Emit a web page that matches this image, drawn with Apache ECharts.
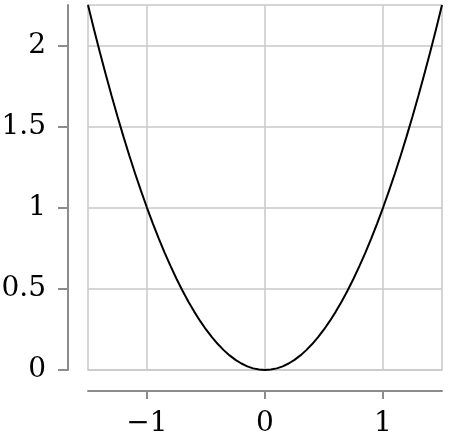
<!DOCTYPE html>
<html>
<head>
<meta charset="utf-8">
<script src="https://cdn.jsdelivr.net/npm/echarts@6/dist/echarts.min.js"></script>
<style>
html,body{margin:0;padding:0;background:#fff;}
#chart{width:449px;height:437px;}
</style>
</head>
<body>
<div id="chart"></div>
<script>
const xValues = [-1.5, -1.45, -1.4, -1.35, -1.3, -1.25, -1.2, -1.15, -1.1, -1.05,
                 -1, -0.95, -0.9, -0.85, -0.8, -0.75, -0.7, -0.65, -0.6, -0.55,
                 -0.5, -0.45, -0.4, -0.35, -0.3, -0.25, -0.2, -0.15, -0.1, -0.05,
                 0, 0.05, 0.1, 0.15, 0.2, 0.25, 0.3, 0.35, 0.4, 0.45,
                 0.5, 0.55, 0.6, 0.65, 0.7, 0.75, 0.8, 0.85, 0.9, 0.95,
                 1, 1.05, 1.1, 1.15, 1.2, 1.25, 1.3, 1.35, 1.4, 1.45, 1.5];
const yValues = [2.25, 2.1025, 1.96, 1.8225, 1.69, 1.5625, 1.44, 1.3225, 1.21, 1.1025,
                 1, 0.9025, 0.81, 0.7225, 0.64, 0.5625, 0.49, 0.4225, 0.36, 0.3025,
                 0.25, 0.2025, 0.16, 0.1225, 0.09, 0.0625, 0.04, 0.0225, 0.01, 0.0025,
                 0, 0.0025, 0.01, 0.0225, 0.04, 0.0625, 0.09, 0.1225, 0.16, 0.2025,
                 0.25, 0.3025, 0.36, 0.4225, 0.49, 0.5625, 0.64, 0.7225, 0.81, 0.9025,
                 1, 1.1025, 1.21, 1.3225, 1.44, 1.5625, 1.69, 1.8225, 1.96, 2.1025, 2.25];
const xTicks = [-1, 0, 1];
const yTicks = [0, 0.5, 1, 1.5, 2];

const fmt = v => (v < 0 ? '\u2212' + Math.abs(v) : String(v));
const gridColor = '#c8c8c8';
const axisColor = '#8c8c8c';
const font = 'DejaVu Serif';

const chart = echarts.init(document.getElementById('chart'), null, {renderer: 'canvas'});
chart.setOption({
  animation: false,
  backgroundColor: '#fff',
  grid: {left: 88, right: 7, top: 5, bottom: 67, containLabel: false, outerBoundsMode: 'none',
         show: true, borderColor: gridColor, borderWidth: 1.5, backgroundColor: 'transparent'},
  xAxis: {
    type: 'value', min: -1.5, max: 1.5, offset: 21,
    axisLine: {show: true, onZero: false, lineStyle: {color: axisColor, width: 2}},
    axisTick: {show: true, customValues: xTicks, length: 8, lineStyle: {color: axisColor, width: 2}},
    axisLabel: {customValues: xTicks, formatter: fmt, margin: 19, color: '#000', fontFamily: font, fontSize: 28},
    splitLine: {show: false}
  },
  yAxis: {
    type: 'value', min: 0, max: 2.25, interval: 0.5, offset: 20,
    axisLine: {show: true, onZero: false, lineStyle: {color: axisColor, width: 2}},
    axisTick: {show: true, customValues: yTicks, length: 10, lineStyle: {color: axisColor, width: 2}},
    axisLabel: {customValues: yTicks, formatter: fmt, margin: 22, color: '#000', fontFamily: font, fontSize: 28},
    splitLine: {show: true, lineStyle: {color: gridColor, width: 1.5}}
  },
  series: [{
    type: 'line',
    data: xValues.map((x, i) => [x, yValues[i]]),
    symbol: 'none',
    smooth: false,
    lineStyle: {color: '#000', width: 2},
    z: 5,
    markLine: {
      silent: true, symbol: 'none', animation: false,
      label: {show: false},
      lineStyle: {color: gridColor, width: 1.5, type: 'solid'},
      data: xTicks.map(v => ({xAxis: v}))
    }
  }]
});
</script>
</body>
</html>
